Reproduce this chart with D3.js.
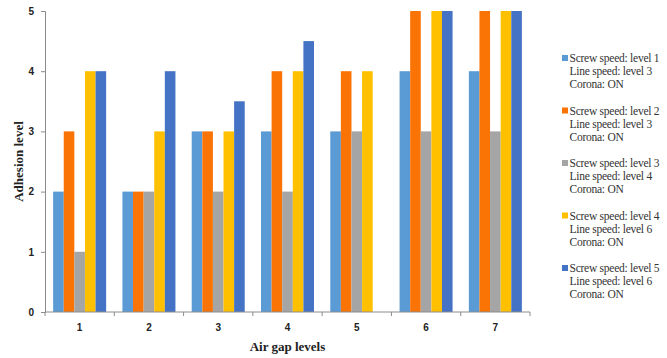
<!DOCTYPE html>
<html>
<head>
<meta charset="utf-8">
<script src="https://cdn.jsdelivr.net/npm/d3@7"></script>
<style>
  body { margin: 0; background: #fff; }
  svg { display: block; }
</style>
</head>
<body>
<svg id="chart"></svg>
<script>
// data
const groups = ["1", "2", "3", "4", "5", "6", "7"];
const seriesNames = [
  ["Screw speed: level 1", "Line speed: level 3", "Corona: ON"],
  ["Screw speed: level 2", "Line speed: level 3", "Corona: ON"],
  ["Screw speed: level 3", "Line speed: level 4", "Corona: ON"],
  ["Screw speed: level 4", "Line speed: level 6", "Corona: ON"],
  ["Screw speed: level 5", "Line speed: level 6", "Corona: ON"]
];
const level1 = [2, 2, 3, 3, 3, 4, 4];
const level2 = [3, 2, 3, 4, 4, 5, 5];
const level3 = [1, 2, 2, 2, 3, 3, 3];
const level4 = [4, 3, 3, 4, 4, 5, 5];
const level5 = [4, 4, 3.5, 4.5, 0, 5, 5];
const yTicks = [0, 1, 2, 3, 4, 5];
const colors = ["#5b9bd5", "#fa7305", "#a5a5a5", "#ffc000", "#4472c4"];

const allSeries = [level1, level2, level3, level4, level5];

const width = 667, height = 358;
const margin = { left: 45, right: 137, top: 11, bottom: 46 };

const svg = d3.select("#chart")
  .attr("width", width)
  .attr("height", height);

const x0 = d3.scaleBand()
  .domain(groups)
  .range([margin.left, width - margin.right])
  .paddingInner(0.235)
  .paddingOuter(0.1175);

const x1 = d3.scaleBand()
  .domain(d3.range(allSeries.length))
  .range([0, x0.bandwidth()]);

const y = d3.scaleLinear()
  .domain([0, 5])
  .range([height - margin.bottom, margin.top]);

// bars
groups.forEach((g, gi) => {
  allSeries.forEach((s, si) => {
    if (s[gi] <= 0) return;
    svg.append("rect")
      .attr("x", x0(g) + x1(si))
      .attr("y", y(s[gi]))
      .attr("width", x1.bandwidth())
      .attr("height", y(0) - y(s[gi]))
      .attr("fill", colors[si]);
  });
});

// y axis
const yAxis = d3.axisLeft(y).tickValues(yTicks).tickSize(4).tickPadding(7).tickFormat(d3.format("d"));
const yg = svg.append("g")
  .attr("transform", `translate(${margin.left},0)`)
  .call(yAxis);
yg.select(".domain").attr("stroke", "#8c8c8c");
yg.selectAll(".tick line").attr("stroke", "#8c8c8c");
yg.selectAll(".tick text")
  .attr("font-family", "Liberation Sans, Arial, sans-serif")
  .attr("font-size", 10)
  .attr("font-weight", "bold")
  .attr("fill", "#222");

// x axis (ticks between categories)
const xAxisLine = svg.append("g").attr("transform", `translate(0,${y(0)})`);
xAxisLine.append("line")
  .attr("x1", margin.left).attr("x2", width - margin.right)
  .attr("stroke", "#8c8c8c");
d3.range(groups.length + 1).forEach(i => {
  const xp = margin.left + i * x0.step() - (i === 0 ? 0 : 0);
  xAxisLine.append("line")
    .attr("x1", margin.left + i * (width - margin.left - margin.right) / groups.length)
    .attr("x2", margin.left + i * (width - margin.left - margin.right) / groups.length)
    .attr("y1", 0).attr("y2", 4)
    .attr("stroke", "#8c8c8c");
});
groups.forEach(g => {
  svg.append("text")
    .attr("x", x0(g) + x0.bandwidth() / 2)
    .attr("y", y(0) + 19)
    .attr("text-anchor", "middle")
    .attr("font-family", "Liberation Sans, Arial, sans-serif")
    .attr("font-size", 10)
    .attr("font-weight", "bold")
    .attr("fill", "#222")
    .text(g);
});

// axis titles
svg.append("text")
  .attr("x", (margin.left + width - margin.right) / 2)
  .attr("y", 351)
  .attr("text-anchor", "middle")
  .attr("font-family", "Liberation Serif, Times New Roman, serif")
  .attr("font-size", 13)
  .attr("font-weight", "bold")
  .attr("fill", "#222")
  .text("Air gap levels");

svg.append("text")
  .attr("transform", `translate(23,${(margin.top + height - margin.bottom) / 2}) rotate(-90)`)
  .attr("text-anchor", "middle")
  .attr("font-family", "Liberation Serif, Times New Roman, serif")
  .attr("font-size", 13)
  .attr("font-weight", "bold")
  .attr("fill", "#222")
  .text("Adhesion level");

// legend
const legend = svg.append("g").attr("transform", "translate(562,58)");
seriesNames.forEach((lines, i) => {
  const item = legend.append("g").attr("transform", `translate(0,${i * 52.5})`);
  item.append("rect")
    .attr("x", 0).attr("y", -3)
    .attr("width", 6).attr("height", 6)
    .attr("fill", colors[i]);
  lines.forEach((t, li) => {
    item.append("text")
      .attr("x", 7.5)
      .attr("y", li * 13 + 4)
      .attr("font-family", "Liberation Serif, Times New Roman, serif")
      .attr("font-size", 11.5)
      .attr("letter-spacing", -0.25)
      .attr("fill", "#333")
      .text(t);
  });
});
</script>
</body>
</html>
